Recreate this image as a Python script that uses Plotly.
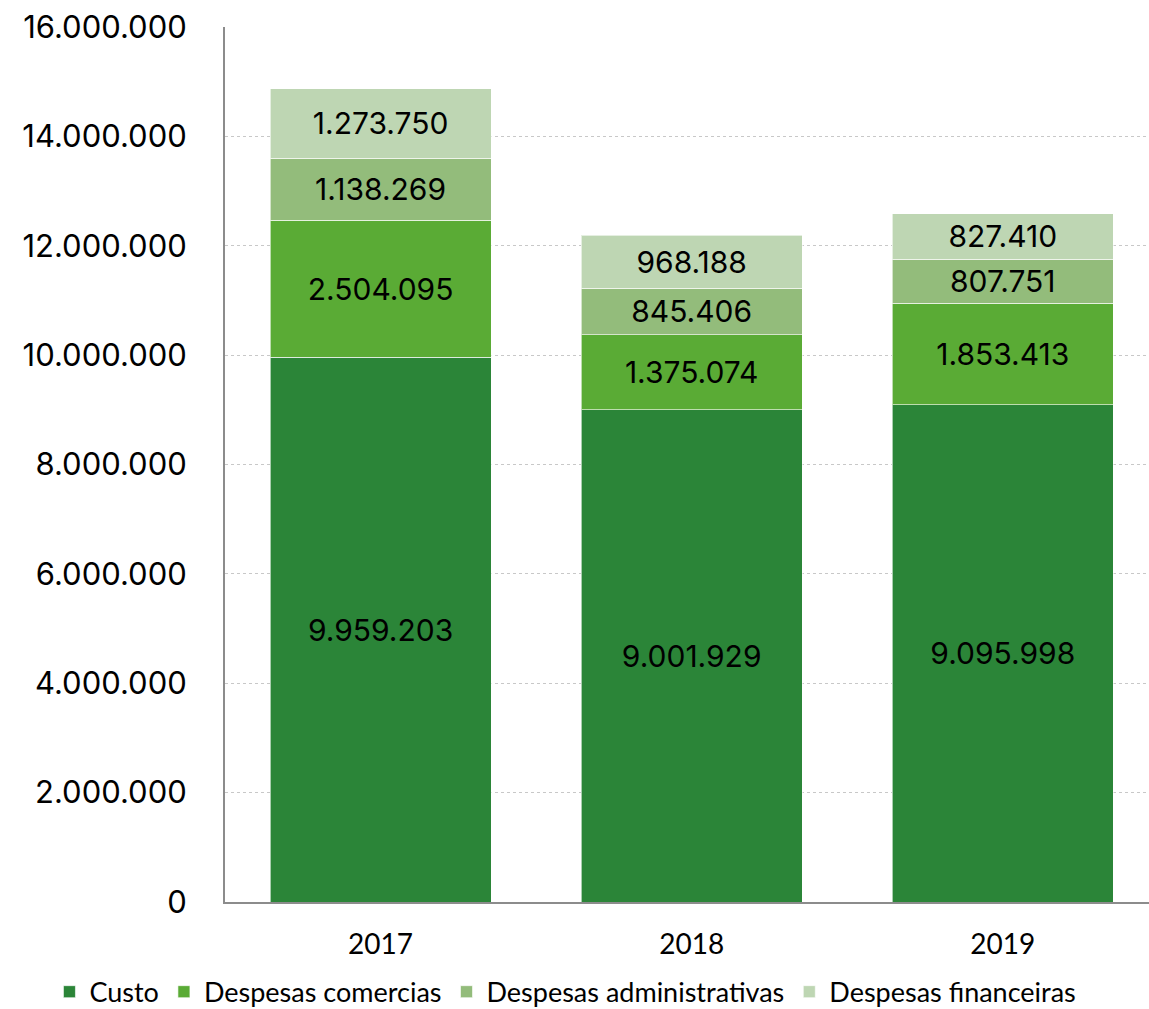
import plotly.graph_objects as go

years = ['2017', '2018', '2019']
custo = [9959203, 9001929, 9095998]
desp_comerciais = [2504095, 1375074, 1853413]
desp_administrativas = [1138269, 845406, 807751]
desp_financeiras = [1273750, 968188, 827410]

series = [
    ('Custo', custo, '#2b8538'),
    ('Despesas comercias', desp_comerciais, '#5aab35'),
    ('Despesas administrativas', desp_administrativas, '#93bc7b'),
    ('Despesas financeiras', desp_financeiras, '#bed6b3'),
]

num_font = 'Inter, Lato, sans-serif'
txt_font = 'Lato, "Open Sans", sans-serif'

fig = go.Figure()
for name, vals, color in series:
    fig.add_trace(go.Bar(
        x=years, y=vals, name=name,
        marker=dict(color=color, line=dict(color='rgba(255,255,255,0.6)', width=1)),
        texttemplate='%{y:,.0f}', textposition='inside', insidetextanchor='middle',
        textfont=dict(family=num_font, size=30, color='black'),
        textangle=0,
    ))

fig.update_layout(
    width=1149, height=1009,
    barmode='stack', bargap=0.29,
    separators=',.',
    plot_bgcolor='white', paper_bgcolor='white',
    margin=dict(l=225, r=0, t=27, b=107, autoexpand=False),
    uniformtext=dict(minsize=30, mode='show'),
    xaxis=dict(
        type='category', range=[-0.5, 2.47],
        showline=True, linecolor='#8c8c8c', linewidth=2,
        showgrid=False, ticks='', ticklabelstandoff=16,
        tickfont=dict(family=txt_font, size=28, color='black'),
    ),
    yaxis=dict(
        range=[0, 16000000], dtick=2000000, tickformat=',.0f',
        showline=True, linecolor='#8c8c8c', linewidth=2,
        showgrid=True, gridcolor='#c8c8c8', griddash='dot', gridwidth=1,
        zeroline=False, ticks='', ticklabelstandoff=30,
        tickfont=dict(family=num_font, size=31, color='black'),
    ),
    legend=dict(
        orientation='h', xref='paper', yref='paper',
        x=-0.19, xanchor='left', y=-0.075, yanchor='top',
        font=dict(family=txt_font, size=27, color='black'),
        traceorder='normal', itemwidth=30,
    ),
    showlegend=True,
)

fig.write_html("out.html", config={'displayModeBar': False},
               post_script="document.body.style.margin='0';")
